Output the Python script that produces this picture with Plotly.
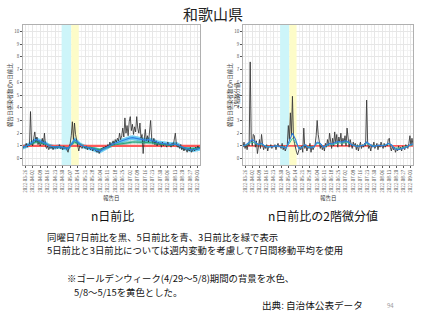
import pandas as pd
import plotly.graph_objects as go

# ---------------- data ----------------
start_date = "2022-03-24"
n_days = 166
dates = pd.date_range(start_date, periods=n_days, freq="D")
dates3 = dates[::3]

gw_period = ("2022-04-29", "2022-05-08")
post_gw_period = ("2022-05-08", "2022-05-15")
tick_start = "2022-03-26"

# left panel: same-weekday 7-day ratio (black)
ratio7 = [0.8, 1.0, 0.9, 1.2, 0.9, 1.1, 1.0,
          3.7,
          1.2, 1.0, 1.6, 2.1, 1.3, 1.7,
          1.1, 1.4, 1.0, 1.2, 1.6, 1.1, 2.0,
          1.0, 0.8, 1.0, 0.7, 0.9, 0.8, 1.0,
          0.7, 0.9, 0.8, 1.0, 0.8, 0.9, 1.1, 0.8,
          0.9, 0.7, 1.0, 0.8, 0.9, 0.6, 0.5, 0.9, 1.2, 1.8,
          2.9, 1.5, 2.8, 1.9, 1.4, 0.9, 0.6,
          1.0, 0.9, 0.8, 1.0, 0.9, 0.8, 1.0, 0.7,
          0.9, 0.8, 0.7, 0.9, 0.6, 0.8, 0.7, 0.6, 0.5, 0.7,
          0.4, 0.6, 0.8, 0.7, 0.9, 0.8, 1.0, 0.9,
          1.1, 0.9, 1.3, 1.0, 1.2, 1.4, 1.1, 1.5, 1.3,
          1.6, 1.4, 2.0, 1.5, 1.8, 2.4, 1.7, 3.2,
          2.0, 2.6, 1.8, 2.9, 3.3, 2.2, 2.7, 1.9,
          2.5, 2.1, 3.3, 2.4, 2.0, 2.8, 1.6, 1.9,
          0.4, 1.5, 2.3, 1.4, 1.8, 1.3, 2.2, 3.0,
          1.5, 1.2, 1.6, 1.1, 1.4, 1.0, 1.3, 1.1,
          1.2, 0.9, 1.3, 1.0, 1.2, 1.1, 0.9, 1.3,
          1.0, 1.1, 0.9, 1.2, 1.0, 1.5, 2.0, 1.1,
          0.9, 1.0, 0.8, 1.1, 0.7, 0.9, 0.6, 0.8,
          0.7, 0.5, 0.8, 0.6, 0.9, 0.5, 0.7, 0.8,
          0.6, 0.9, 0.7, 1.0, 0.8, 0.9]

# left panel: 5-day ratio (7-day MA, blue) and 3-day ratio (7-day MA, green), every 3 days
ratio5 = [0.9, 1.0, 1.1, 1.3, 1.5, 1.4, 1.3, 1.2, 1.0, 0.95,
          0.9, 0.95, 0.9, 0.85, 0.8, 1.1, 1.5, 1.3, 1.05, 0.95,
          0.9, 0.85, 0.75, 0.65, 0.6, 0.75, 0.9, 1.05, 1.15, 1.25,
          1.35, 1.45, 1.55, 1.6, 1.65, 1.6, 1.55, 1.5, 1.45, 1.5,
          1.45, 1.35, 1.25, 1.2, 1.15, 1.1, 1.1, 1.15, 1.1, 0.95,
          0.85, 0.75, 0.7, 0.7, 0.75, 0.8]
ratio3 = [0.95, 1.0, 1.05, 1.2, 1.3, 1.3, 1.2, 1.1, 1.0, 0.95,
          0.95, 0.95, 0.9, 0.9, 0.85, 1.05, 1.3, 1.2, 1.05, 0.95,
          0.9, 0.9, 0.8, 0.75, 0.7, 0.8, 0.9, 1.0, 1.05, 1.1,
          1.15, 1.2, 1.25, 1.3, 1.3, 1.3, 1.3, 1.25, 1.25, 1.3,
          1.25, 1.2, 1.15, 1.1, 1.1, 1.05, 1.05, 1.1, 1.05, 0.95,
          0.9, 0.8, 0.75, 0.75, 0.8, 0.85]
band5_halfwidth = 0.18
band3_halfwidth = 0.12

# right panel: second-order difference values
d2_ratio7 = [0.9, 1.3, 0.8, 1.1, 0.7, 1.2, 1.0,
             7.6,
             1.5, 1.0, 1.9, 1.8, 0.9, 1.4,
             0.4, 1.0, 1.5, 0.8, 1.9, 1.1, 0.7,
             1.0, 0.8, 1.1, 0.6, 1.0, 0.9, 1.1,
             0.8, 1.0, 0.9, 1.1, 0.7, 1.0, 1.2, 0.9,
             1.0, 0.8, 1.2, 0.7, 1.0, 0.6, 0.8, 1.1, 2.6, 1.5,
             3.6, 1.8, 4.9, 1.6, 1.2, 0.8, 0.5,
             0.3, 0.6, 0.9, 0.7, 1.0, 0.5, 2.4, 0.8,
             1.1, 0.6, 0.9, 0.8, 1.2, 0.5, 1.0, 0.7, 0.9, 1.1,
             1.8, 3.0, 1.9, 1.2, 0.8, 1.1, 0.7, 1.0,
             0.6, 1.2, 0.9, 1.5, 1.0, 2.0, 1.1, 0.8, 1.6,
             1.0, 2.1, 1.2, 1.9, 0.9, 1.7, 1.3, 2.0,
             1.0, 1.6, 1.2, 1.8, 1.0, 2.4, 1.3, 0.9,
             1.5, 1.1, 0.8, 1.3, 1.0, 1.2, 0.7, 1.1,
             0.6, 1.0, 1.3, 0.8, 1.1, 0.9, 1.2, 1.0,
             4.6, 1.2, 0.8, 1.0, 0.6, 1.1, 0.9, 1.3,
             0.8, 1.0, 1.2, 0.7, 1.1, 0.9, 1.3, 1.0,
             0.8, 1.2, 0.9, 1.1, 1.0, 1.5, 1.6, 0.9,
             0.6, 1.0, 0.7, 0.9, 0.5, 0.8, 0.6, 1.0,
             0.7, 0.9, 0.6, 1.0, 0.8, 0.7, 1.1, 0.9,
             0.8, 1.2, 1.8, 1.0, 1.6, 1.1]
d2_ratio5 = [1.0, 1.1, 1.3, 1.5, 1.3, 1.1, 1.2, 1.0, 0.9, 0.95,
             1.0, 1.0, 0.95, 0.9, 0.85, 1.4, 2.0, 1.5, 0.8, 0.85,
             1.1, 0.9, 0.85, 0.95, 1.3, 1.2, 0.9, 1.05, 1.2, 1.15,
             1.3, 1.35, 1.3, 1.4, 1.35, 1.1, 1.0, 0.95, 1.0, 1.05,
             1.3, 1.1, 0.95, 1.0, 1.05, 1.0, 1.05, 1.2, 1.1, 0.8,
             0.7, 0.75, 0.85, 0.9, 1.1, 1.15]
d2_ratio3 = [1.0, 1.05, 1.2, 1.3, 1.2, 1.1, 1.1, 1.0, 0.95, 0.95,
             1.0, 1.0, 0.95, 0.95, 0.9, 1.2, 1.6, 1.3, 0.9, 0.9,
             1.05, 0.95, 0.9, 0.95, 1.2, 1.15, 0.95, 1.0, 1.1, 1.1,
             1.2, 1.25, 1.2, 1.3, 1.25, 1.1, 1.0, 1.0, 1.0, 1.05,
             1.2, 1.05, 1.0, 1.0, 1.05, 1.0, 1.05, 1.15, 1.05, 0.85,
             0.8, 0.8, 0.9, 0.95, 1.05, 1.1]

reference_level = 1
y_ticks = list(range(0, 11))
y_range = [-0.5, 10.5]

title_text = "和歌山県"
y_title_left = "報告日感染者数のn日前比"
y_title_right = "報告日感染者数のn日前比<br>2階微分値"
x_title = "報告日"
caption_left = "n日前比"
caption_right = "n日前比の2階微分値"
notes = [
    "同曜日7日前比を黒、5日前比を青、3日前比を緑で表示",
    "5日前比と3日前比については週内変動を考慮して7日間移動平均を使用",
    "※ゴールデンウィーク(4/29～5/8)期間の背景を水色、",
    "5/8～5/15を黄色とした。",
]
source_text = "出典: 自治体公表データ"
page_number = "94"

# ---------------- figure ----------------
W, H = 427, 320
FONT = "Noto Sans CJK JP, Noto Sans, sans-serif"
BLACK = "#2b2b2b"
BLUE = "#2f7fe0"
GREEN = "#2aa37a"
GREEN_R = "#35c0a8"
RED = "#ff5a5a"
CYAN_BG = "#cdf5f9"
YELLOW_BG = "#fdfcc8"


def px(x):
    return x / W


def py(y):
    return 1 - y / H


fig = go.Figure()
x0 = dates[0]
x1 = dates[-1]


def add_period(period, color, xa, ya):
    fig.add_trace(go.Scatter(x=[period[0], period[0], period[1], period[1]],
                             y=[y_range[0], y_range[1], y_range[1], y_range[0]],
                             mode="lines", fill="toself", fillcolor=color,
                             line=dict(width=0, color=color), xaxis=xa, yaxis=ya,
                             showlegend=False, hoverinfo="skip"))


def add_band(xs, center, hw, color, xa, ya):
    up = [v + hw for v in center]
    lo = [v - hw for v in center]
    fig.add_trace(go.Scatter(x=list(xs), y=up, mode="lines", line=dict(width=0, color=color),
                             xaxis=xa, yaxis=ya, showlegend=False, hoverinfo="skip"))
    fig.add_trace(go.Scatter(x=list(xs), y=lo, mode="lines", line=dict(width=0, color=color),
                             fill="tonexty", fillcolor=color,
                             xaxis=xa, yaxis=ya, showlegend=False, hoverinfo="skip"))


# left panel
add_period(gw_period, CYAN_BG, "x", "y")
add_period(post_gw_period, YELLOW_BG, "x", "y")
add_band(dates3, ratio5, band5_halfwidth, "rgba(64,190,240,0.75)", "x", "y")
add_band(dates3, ratio3, band3_halfwidth, "rgba(40,170,140,0.55)", "x", "y")
fig.add_trace(go.Scatter(x=[x0, x1], y=[reference_level] * 2, mode="lines",
                         line=dict(color=RED, width=2.2), xaxis="x", yaxis="y", showlegend=False))
fig.add_trace(go.Scatter(x=dates, y=ratio7, mode="lines", line=dict(color=BLACK, width=0.8),
                         xaxis="x", yaxis="y", showlegend=False))
fig.add_trace(go.Scatter(x=dates3, y=ratio3, mode="lines", line=dict(color=GREEN, width=1),
                         xaxis="x", yaxis="y", showlegend=False))
fig.add_trace(go.Scatter(x=dates3, y=ratio5, mode="lines", line=dict(color=BLUE, width=1.2),
                         xaxis="x", yaxis="y", showlegend=False))

# right panel
add_period(gw_period, CYAN_BG, "x2", "y2")
add_period(post_gw_period, YELLOW_BG, "x2", "y2")
fig.add_trace(go.Scatter(x=[x0, x1], y=[reference_level] * 2, mode="lines",
                         line=dict(color=RED, width=1.6), xaxis="x2", yaxis="y2", showlegend=False))
fig.add_trace(go.Scatter(x=dates, y=d2_ratio7, mode="lines", line=dict(color="#3a3a3a", width=0.9),
                         xaxis="x2", yaxis="y2", showlegend=False))
fig.add_trace(go.Scatter(x=dates3, y=d2_ratio3, mode="lines", line=dict(color=GREEN_R, width=1),
                         xaxis="x2", yaxis="y2", showlegend=False))
fig.add_trace(go.Scatter(x=dates3, y=d2_ratio5, mode="lines", line=dict(color=BLUE, width=1.1),
                         xaxis="x2", yaxis="y2", showlegend=False))

grid = "#e6e6e6"
minor_grid = "#f3f3f3"
week = 7 * 86400000

xcommon = dict(type="date", range=[x0, x1], tick0=tick_start, dtick=week,
               tickformat="%Y-%m-%d", tickangle=-90, tickfont=dict(size=4.5, color="#555", family=FONT),
               showgrid=True, gridcolor=grid, gridwidth=0.6,
               minor=dict(dtick=week / 2, tick0=tick_start, showgrid=True, gridcolor=minor_grid, gridwidth=0.5),
               ticks="outside", ticklen=2, tickcolor="#555", tickwidth=0.6,
               showline=True, mirror=True, linecolor="#b0b0b0", linewidth=0.8, zeroline=False)
ycommon = dict(range=y_range, tickvals=y_ticks, tickfont=dict(size=4.5, color="#555", family=FONT),
               showgrid=True, gridcolor=grid, gridwidth=0.6,
               minor=dict(dtick=0.5, showgrid=True, gridcolor=minor_grid, gridwidth=0.5),
               ticks="outside", ticklen=2, tickcolor="#555", tickwidth=0.6,
               showline=True, mirror=True, linecolor="#b0b0b0", linewidth=0.8, zeroline=False)

L = (23, 200)
R = (243, 413)
TOP, BOT = 25, 165

fig.update_layout(
    width=W, height=H, autosize=False,
    margin=dict(l=0, r=0, t=0, b=0),
    paper_bgcolor="white", plot_bgcolor="white",
    font=dict(family=FONT),
    xaxis=dict(domain=[px(L[0]), px(L[1])], anchor="y", **xcommon),
    yaxis=dict(domain=[py(BOT), py(TOP)], anchor="x", **ycommon),
    xaxis2=dict(domain=[px(R[0]), px(R[1])], anchor="y2", **xcommon),
    yaxis2=dict(domain=[py(BOT), py(TOP)], anchor="x2", **ycommon),
    showlegend=False,
)


def ann(text, x, y, size, color="#111", xanchor="center", angle=0, yanchor="middle"):
    fig.add_annotation(text=text, x=px(x), y=py(y), xref="paper", yref="paper",
                       showarrow=False, xanchor=xanchor, yanchor=yanchor, textangle=angle,
                       font=dict(size=size, color=color, family=FONT))


ann(title_text, 213, 13, 15, "#222")
ann(y_title_left, 10, (TOP + BOT) / 2, 5.5, "#333", angle=-90)
ann(y_title_right, 233, (TOP + BOT) / 2, 5.5, "#333", angle=-90)
ann(x_title, (L[0] + L[1]) / 2, 198, 5.5, "#333")
ann(x_title, (R[0] + R[1]) / 2, 198, 5.5, "#333")
ann(caption_left, 112, 215, 12, "#111")
ann(caption_right, 323, 215, 12, "#111")
ann(notes[0], 45, 237, 9.4, xanchor="left")
ann(notes[1], 45, 250, 9.4, xanchor="left")
ann(notes[2], 65, 278, 9.4, xanchor="left")
ann(notes[3], 72, 292, 9.4, xanchor="left")
ann(source_text, 260, 305, 9.6, xanchor="left")
ann(page_number, 390, 305, 6, "#999")

fig.write_html("out.html")
